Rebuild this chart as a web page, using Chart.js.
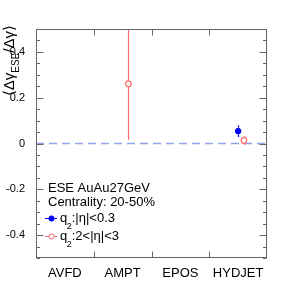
<!DOCTYPE html>
<html>
<head>
<meta charset="utf-8">
<script src="https://cdn.jsdelivr.net/npm/chart.js@4"></script>
<style>
  html, body { margin: 0; padding: 0; background: #fff; }
  #grafico { display: block; }
</style>
</head>
<body>
<canvas id="grafico" width="297" height="291"></canvas>
<script>
// dados
const categorias = ['AVFD', 'AMPT', 'EPOS', 'HYDJET'];
const q2MeioValores = [null, null, null, 0.054];
const q2MeioErros = [null, null, null, 0.026];
const q2FrenteValores = [null, 0.261, null, 0.013];
const q2FrenteErros = [null, 0.245, null, 0.02];
const yTicks = [-0.4, -0.2, 0, 0.2, 0.4];
const linhasTexto = ['ESE AuAu27GeV', 'Centrality: 20-50%'];
const legendas = [':|η|<0.3', ':2<|η|<3'];

const AZUL = '#0000ff';
const VERMELHO = 'rgb(255,105,105)';
const FONTE = '"Liberation Sans", Arial, sans-serif';

function montarPontos(valores, erros, deslocamento) {
  const pts = [];
  valores.forEach((v, i) => {
    if (v !== null) pts.push({ x: i + deslocamento, y: v, err: erros[i] });
  });
  return pts;
}

const moldura = {
  id: 'moldura',
  beforeDatasetsDraw(chart) {
    const { ctx, chartArea: a, scales: { x, y } } = chart;
    ctx.save();
    // linha tracejada em zero
    ctx.strokeStyle = 'rgb(145,165,232)';
    ctx.lineWidth = 1.3;
    ctx.setLineDash([8, 5]);
    const y0 = y.getPixelForValue(0);
    ctx.beginPath();
    ctx.moveTo(a.left, y0);
    ctx.lineTo(a.right, y0);
    ctx.stroke();
    ctx.setLineDash([]);

    // barras de erro
    ctx.beginPath();
    ctx.rect(a.left, a.top, a.right - a.left, a.bottom - a.top);
    ctx.clip();
    chart.data.datasets.forEach(ds => {
      ctx.strokeStyle = ds.borderColor;
      ctx.lineWidth = 1.2;
      const r = ds.pointRadius + 0.5;
      ds.data.forEach(p => {
        const px = Math.round(x.getPixelForValue(p.x)) + 0.5;
        const py = y.getPixelForValue(p.y);
        const yTop = y.getPixelForValue(p.y + p.err);
        const yBot = y.getPixelForValue(p.y - p.err);
        ctx.beginPath();
        ctx.moveTo(px, py - r);
        ctx.lineTo(px, yTop);
        ctx.moveTo(px, py + r);
        ctx.lineTo(px, yBot);
        ctx.stroke();
      });
    });
    ctx.restore();
  },
  afterDraw(chart) {
    const { ctx, chartArea: a, scales: { x, y } } = chart;
    ctx.save();
    ctx.strokeStyle = '#666';
    ctx.lineWidth = 1;
    const L = Math.round(a.left) + 0.5, R = Math.round(a.right) - 0.5;
    const T = Math.round(a.top) + 0.5, B = Math.round(a.bottom) - 0.5;
    ctx.strokeRect(L, T, R - L, B - T);

    ctx.beginPath();
    for (let k = -10; k <= 10; k++) {
      const v = k * 0.05;
      const py = Math.round(y.getPixelForValue(v)) + 0.5;
      const len = (k % 4 === 0) ? 7 : 3.5;
      ctx.moveTo(L, py); ctx.lineTo(L + len, py);
      ctx.moveTo(R, py); ctx.lineTo(R - len, py);
    }
    for (let i = 0; i < categorias.length - 1; i++) {
      const px = Math.round(x.getPixelForValue(i + 0.5)) + 0.5;
      ctx.moveTo(px, T); ctx.lineTo(px, T + 6);
      ctx.moveTo(px, B); ctx.lineTo(px, B - 6);
    }
    ctx.stroke();

    // título do eixo y
    ctx.fillStyle = '#000';
    ctx.translate(14, 25);
    ctx.rotate(-Math.PI / 2);
    const partes = [['⟨Δγ', 15, 0], ['ESE', 10, 5], ['/Δγ⟩', 15, 0]];
    let total = 0;
    partes.forEach(p => { ctx.font = p[1] + 'px ' + FONTE; total += ctx.measureText(p[0]).width; });
    let cx = -total;
    ctx.textBaseline = 'alphabetic';
    partes.forEach(p => {
      ctx.font = p[1] + 'px ' + FONTE;
      ctx.fillText(p[0], cx, p[2]);
      cx += ctx.measureText(p[0]).width;
    });
    ctx.restore();

    // legenda
    ctx.save();
    ctx.fillStyle = '#000';
    ctx.font = '13px ' + FONTE;
    ctx.fillText(linhasTexto[0], 48, 192);
    ctx.fillText(linhasTexto[1], 48, 206);
    const linhasY = [218, 236];
    chart.data.datasets.forEach((ds, i) => {
      const my = linhasY[i];
      ctx.strokeStyle = ds.borderColor;
      ctx.lineWidth = 1;
      ctx.beginPath();
      ctx.moveTo(45, my + 0.5);
      ctx.lineTo(57, my + 0.5);
      ctx.stroke();
      ctx.beginPath();
      ctx.arc(51.5, my + 0.5, 2.6, 0, Math.PI * 2);
      ctx.fillStyle = ds.backgroundColor === 'transparent' ? '#fff' : ds.backgroundColor;
      ctx.fill();
      ctx.stroke();
      ctx.fillStyle = '#000';
      ctx.font = '13px ' + FONTE;
      ctx.fillText('q', 60, my + 4);
      const wq = ctx.measureText('q').width;
      ctx.font = '9px ' + FONTE;
      ctx.fillText('2', 60 + wq - 0.5, my + 11);
      const w2 = ctx.measureText('2').width;
      ctx.font = '13px ' + FONTE;
      ctx.fillText(legendas[i], 60 + wq + w2 - 0.5, my + 4);
    });
    ctx.restore();
  }
};

new Chart(document.getElementById('grafico'), {
  type: 'scatter',
  data: {
    datasets: [{
      label: 'q2:|η|<0.3',
      data: montarPontos(q2MeioValores, q2MeioErros, 0),
      backgroundColor: AZUL,
      borderColor: AZUL,
      pointRadius: 2.8,
      borderWidth: 1
    }, {
      label: 'q2:2<|η|<3',
      data: montarPontos(q2FrenteValores, q2FrenteErros, 0.1),
      backgroundColor: 'transparent',
      borderColor: VERMELHO,
      pointRadius: 2.8,
      borderWidth: 1.2
    }]
  },
  options: {
    responsive: false,
    animation: false,
    events: [],
    layout: { padding: { top: 29, right: 30, left: 0, bottom: 0 } },
    plugins: {
      legend: { display: false },
      tooltip: { enabled: false }
    },
    scales: {
      x: {
        type: 'linear',
        min: -0.5,
        max: 3.5,
        afterBuildTicks: s => { s.ticks = categorias.map((c, i) => ({ value: i })); },
        afterFit: s => { s.height = 33; },
        grid: { display: false },
        border: { display: false },
        ticks: {
          callback: (v, i) => categorias[i],
          font: { family: FONTE, size: 13 },
          color: '#000',
          padding: 0,
          maxRotation: 0,
          autoSkip: false
        }
      },
      y: {
        min: -0.5,
        max: 0.5,
        afterBuildTicks: s => { s.ticks = yTicks.map(v => ({ value: v })); },
        afterFit: s => { s.width = 36; },
        grid: { display: false },
        border: { display: false },
        ticks: {
          callback: v => (Math.abs(v) < 1e-9 ? '0' : String(Math.round(v * 10) / 10)),
          font: { family: FONTE, size: 11 },
          color: '#000',
          padding: 3
        }
      }
    }
  },
  plugins: [moldura]
});
</script>
</body>
</html>
